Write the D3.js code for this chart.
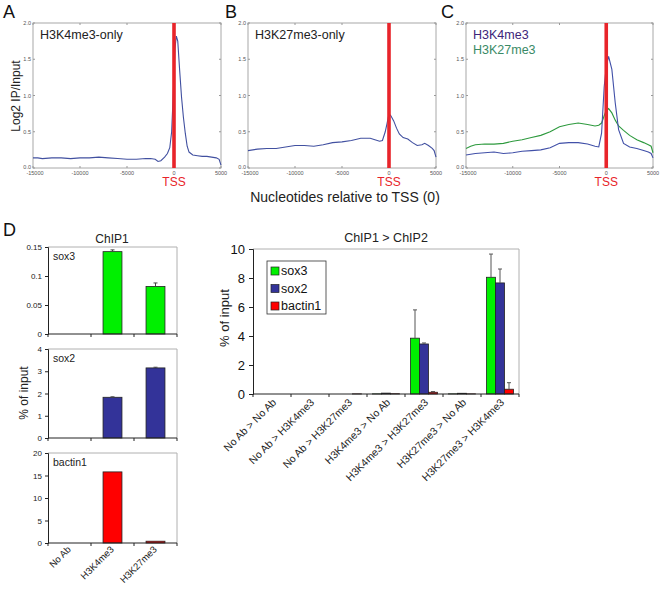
<!DOCTYPE html>
<html><head><meta charset="utf-8">
<script src="https://cdn.jsdelivr.net/npm/d3@7"></script>
<style>body{margin:0;background:#fff}svg{display:block}text{font-family:Arial,'Liberation Sans',sans-serif}</style>
</head><body><svg id="c" width="662" height="589"></svg>
<script>
// ---------- Data: profiles (A, B, C) ----------
const profileTicksX = [-15000, -10000, -5000, 0, 5000];
const profileTicksY = [0, 0.5, 1.0, 1.5, 2.0];
const ntA = [-15000,-14500,-14000,-13000,-12000,-11000,-10000,-9000,-8000,-7000,-6000,-5000,-4000,-3000,-2500,-2000,-1700,-1400,-1000,-700,-450,-250,-100,0,100,250,400,600,800,1000,1200,1400,1600,2000,2500,3000,3500,4000,4500,4800,5000];
const h3k4Only = [0.14,0.14,0.13,0.14,0.14,0.13,0.14,0.14,0.15,0.14,0.13,0.12,0.12,0.13,0.13,0.12,0.09,0.10,0.15,0.20,0.28,0.50,0.95,1.30,1.65,1.82,1.75,1.35,0.98,0.70,0.48,0.30,0.22,0.18,0.17,0.16,0.16,0.15,0.14,0.12,0.04];
const ntB = [-15000,-14000,-13000,-12000,-11000,-10000,-9000,-8000,-7000,-6000,-5000,-4000,-3000,-2000,-1500,-1000,-700,-400,-200,0,200,500,800,1100,1500,2000,2500,3000,3500,3800,4200,4600,4800,5000];
const h3k27Only = [0.24,0.26,0.27,0.27,0.29,0.31,0.31,0.30,0.32,0.35,0.36,0.38,0.41,0.41,0.39,0.37,0.38,0.50,0.62,0.75,0.72,0.65,0.55,0.47,0.42,0.40,0.35,0.31,0.32,0.34,0.31,0.27,0.24,0.15];
const ntC = [-15000,-14500,-14000,-13000,-12000,-11000,-10000,-9000,-8000,-7000,-6000,-5000,-4000,-3000,-2000,-1200,-800,-500,-220,0,250,600,960,1320,1850,2500,3270,4000,4500,4800,5000];
const bivK4 = [0.18,0.19,0.20,0.21,0.22,0.20,0.21,0.23,0.24,0.25,0.28,0.34,0.35,0.35,0.33,0.30,0.29,0.48,1.12,1.40,1.54,1.36,0.90,0.53,0.34,0.29,0.27,0.24,0.22,0.20,0.14];
const bivK27 = [0.27,0.30,0.32,0.33,0.33,0.34,0.37,0.39,0.42,0.45,0.50,0.57,0.60,0.62,0.60,0.58,0.59,0.62,0.72,0.80,0.82,0.76,0.66,0.58,0.52,0.45,0.39,0.35,0.32,0.30,0.21];

// ---------- Data: ChIP1 ----------
const chip1Cats = ["No Ab", "H3K4me3", "H3K27me3"];
const chip1Sox3 = [0, 0.142, 0.082];
const chip1Sox3Err = [0, 0.003, 0.006];
const chip1Sox2 = [0, 1.83, 3.15];
const chip1Sox2Err = [0, 0.02, 0.03];
const chip1Bactin = [0, 15.8, 0.4];
const chip1BactinErr = [0, 0, 0];
const sox3Ticks = [0, 0.05, 0.1, 0.15];
const sox2Ticks = [0, 1, 2, 3, 4];
const bactinTicks = [0, 5, 10, 15, 20];

// ---------- Data: ChIP1 > ChIP2 ----------
const reChipCats = ["No Ab > No Ab","No Ab > H3K4me3","No Ab > H3K27me3","H3K4me3 > No Ab","H3K4me3 > H3K27me3","H3K27me3 > No Ab","H3K27me3 > H3K4me3"];
const reChipSeries = ["sox3", "sox2", "bactin1"];
const reSox3 = [0, 0, 0, 0.01, 3.85, 0.01, 8.05];
const reSox3Err = [0, 0, 0, 0, 1.95, 0, 1.6];
const reSox2 = [0, 0, 0, 0.06, 3.45, 0.05, 7.66];
const reSox2Err = [0, 0, 0, 0.01, 0.07, 0.01, 0.96];
const reBactin = [0, 0, 0.01, 0.02, 0.12, 0.01, 0.33];
const reBactinErr = [0, 0, 0, 0, 0.05, 0, 0.45];
const reTicks = [0, 2, 4, 6, 8, 10];

// ---------- Drawing ----------
const svg = d3.select("#c");
const FONT = "Arial,'Liberation Sans',sans-serif";
const GREEN = "#00f000", BLUE = "#333399", RED = "#ff0000";
const TSSRED = "#e8242a";

function panelLetter(t, x, y) {
  svg.append("text").attr("x", x).attr("y", y).attr("font-size", 18).attr("fill", "#111").text(t);
}
panelLetter("A", 3, 18); panelLetter("B", 225, 18); panelLetter("C", 441, 18); panelLetter("D", 3, 236);

function profile(left, right, series, labels) {
  const top = 23, bottom = 168;
  const x = d3.scaleLinear().domain([-15000, 5000]).range([left, right]);
  const y = d3.scaleLinear().domain([0, 2]).range([bottom, top]);
  const g = svg.append("g");
  g.append("rect").attr("x", left).attr("y", top).attr("width", right - left).attr("height", bottom - top)
    .attr("fill", "none").attr("stroke", "#a8a8a8").attr("stroke-width", 1);
  profileTicksY.forEach(v => {
    g.append("line").attr("x1", left).attr("x2", left + 2).attr("y1", y(v)).attr("y2", y(v)).attr("stroke", "#999");
    g.append("line").attr("x1", right).attr("x2", right - 2).attr("y1", y(v)).attr("y2", y(v)).attr("stroke", "#999");
    g.append("text").attr("x", left - 2).attr("y", y(v) + (v === 0 ? 0.5 : 2)).attr("text-anchor", "end").attr("font-size", 5.5).attr("fill", "#555").text(v.toFixed(1));
  });
  profileTicksX.forEach(v => {
    g.append("line").attr("x1", x(v)).attr("x2", x(v)).attr("y1", bottom).attr("y2", bottom - 2).attr("stroke", "#999");
    g.append("line").attr("x1", x(v)).attr("x2", x(v)).attr("y1", top).attr("y2", top + 2).attr("stroke", "#999");
    g.append("text").attr("x", x(v) + (v === -15000 ? 2 : 0)).attr("y", bottom + 6.5).attr("text-anchor", "middle").attr("font-size", 5.5).attr("fill", "#555").text(String(v));
  });
  const line = d3.line().x(d => x(d[0])).y(d => y(d[1]));
  series.forEach(s => {
    g.append("path").attr("d", line(s.nt.map((n, i) => [n, s.v[i]]))).attr("fill", "none").attr("stroke", s.color).attr("stroke-width", 1.1);
  });
  g.append("line").attr("x1", x(0)).attr("x2", x(0)).attr("y1", top).attr("y2", bottom).attr("stroke", TSSRED).attr("stroke-width", 3.6);
  g.append("text").attr("x", x(0)).attr("y", 186).attr("text-anchor", "middle").attr("font-size", 12).attr("fill", TSSRED).text("TSS");
  labels.forEach((l, i) => {
    g.append("text").attr("x", left + 7).attr("y", 39 + i * 15).attr("font-size", 12.5).attr("fill", l.color).text(l.text);
  });
}
profile(33, 221, [{nt: ntA, v: h3k4Only, color: "#4150a0"}], [{text: "H3K4me3-only", color: "#222"}]);
profile(248, 436, [{nt: ntB, v: h3k27Only, color: "#4150a0"}], [{text: "H3K27me3-only", color: "#222"}]);
profile(466, 653, [{nt: ntC, v: bivK27, color: "#2e9a3e"}, {nt: ntC, v: bivK4, color: "#4150a8"}],
  [{text: "H3K4me3", color: "#3d2579"}, {text: "H3K27me3", color: "#3a8a66"}]);

svg.append("text").attr("x", 16).attr("y", 96).attr("transform", "rotate(-90,16,96)").attr("text-anchor", "middle").attr("dy", "0.35em")
  .attr("font-size", 12).attr("fill", "#222").text("Log2 IP/Input");
svg.append("text").attr("x", 345).attr("y", 202).attr("text-anchor", "middle").attr("font-size", 14).attr("fill", "#222").text("Nucleotides relative to TSS (0)");

// ---------- ChIP1 small bar charts ----------
svg.append("text").attr("x", 112).attr("y", 243).attr("text-anchor", "middle").attr("font-size", 12).attr("fill", "#222").text("ChIP1");
const xL = d3.scaleBand().domain(chip1Cats).range([48, 177]);
function smallBar(top, bottom, vals, errs, ticks, color, name, showX) {
  const y = d3.scaleLinear().domain([0, ticks[ticks.length - 1]]).range([bottom, top]);
  const g = svg.append("g");
  g.append("line").attr("x1", 48).attr("x2", 177).attr("y1", top).attr("y2", top).attr("stroke", "#b0b0b0");
  g.append("line").attr("x1", 177).attr("x2", 177).attr("y1", top).attr("y2", bottom).attr("stroke", "#b0b0b0");
  const bw = xL.bandwidth() * 0.44;
  chip1Cats.forEach((c, i) => {
    if (vals[i] <= 0) return;
    const cx = xL(c) + xL.bandwidth() / 2;
    g.append("rect").attr("x", cx - bw / 2).attr("y", y(vals[i])).attr("width", bw).attr("height", y(0) - y(vals[i]))
      .attr("fill", color).attr("stroke", "#222").attr("stroke-width", 0.8);
    if (errs[i] > 0) {
      g.append("line").attr("x1", cx).attr("x2", cx).attr("y1", y(vals[i])).attr("y2", y(vals[i] + errs[i])).attr("stroke", "#444");
      g.append("line").attr("x1", cx - 2).attr("x2", cx + 2).attr("y1", y(vals[i] + errs[i])).attr("y2", y(vals[i] + errs[i])).attr("stroke", "#444");
    }
  });
  const ya = d3.axisLeft(y).tickValues(ticks).tickSize(3).tickFormat(d3.format("~g"));
  const ag = g.append("g").attr("transform", "translate(48,0)").call(ya);
  ag.selectAll("text").attr("font-size", 8).attr("fill", "#222").attr("font-family", FONT);
  ag.select(".domain").attr("stroke", "#222");
  ag.selectAll(".tick line").attr("stroke", "#222");
  g.append("line").attr("x1", 48).attr("x2", 177).attr("y1", bottom).attr("y2", bottom).attr("stroke", "#222");
  [0, 1, 2, 3].forEach(i => {
    const xx = 48 + i * xL.step();
    g.append("line").attr("x1", xx).attr("x2", xx).attr("y1", bottom).attr("y2", bottom + 3).attr("stroke", "#222");
  });
  g.append("text").attr("x", 53).attr("y", top + 13).attr("font-size", 10.5).attr("fill", "#222").text(name);
  if (showX) {
    chip1Cats.forEach(c => {
      const cx = xL(c) + xL.bandwidth() / 2;
      g.append("text").attr("transform", `translate(${cx + 2},${bottom + 7}) rotate(-45)`).attr("text-anchor", "end")
        .attr("font-size", 9.5).attr("fill", "#222").text(c);
    });
  }
}
smallBar(247, 334, chip1Sox3, chip1Sox3Err, sox3Ticks, GREEN, "sox3", false);
smallBar(349, 438, chip1Sox2, chip1Sox2Err, sox2Ticks, BLUE, "sox2", false);
smallBar(453, 543, chip1Bactin, chip1BactinErr, bactinTicks, RED, "bactin1", true);
svg.append("text").attr("transform", "translate(24,393) rotate(-90)").attr("text-anchor", "middle").attr("dy", "0.35em")
  .attr("font-size", 12).attr("fill", "#222").text("% of input");

// ---------- ChIP1 > ChIP2 ----------
const R = {left: 253, right: 519, top: 249, bottom: 394};
const xR = d3.scaleBand().domain(reChipCats).range([R.left, R.right]);
const xS = d3.scaleBand().domain(reChipSeries).range([0, 27]);
const yR = d3.scaleLinear().domain([0, 10]).range([R.bottom, R.top]);
const colorR = d3.scaleOrdinal().domain(reChipSeries).range([GREEN, BLUE, RED]);
const rVals = {sox3: reSox3, sox2: reSox2, bactin1: reBactin};
const rErrs = {sox3: reSox3Err, sox2: reSox2Err, bactin1: reBactinErr};
const gR = svg.append("g");
gR.append("line").attr("x1", R.left).attr("x2", R.right).attr("y1", R.top).attr("y2", R.top).attr("stroke", "#b0b0b0");
gR.append("line").attr("x1", R.right).attr("x2", R.right).attr("y1", R.top).attr("y2", R.bottom).attr("stroke", "#b0b0b0");
reChipCats.forEach((c, i) => {
  const gx = xR(c) + (xR.bandwidth() - 27) / 2;
  reChipSeries.forEach(s => {
    const v = rVals[s][i], e = rErrs[s][i];
    if (v <= 0) return;
    const bx = gx + xS(s);
    gR.append("rect").attr("x", bx).attr("y", yR(v)).attr("width", xS.bandwidth()).attr("height", yR(0) - yR(v))
      .attr("fill", colorR(s)).attr("stroke", "#222").attr("stroke-width", 0.8);
    if (e > 0.03) {
      const cx = bx + xS.bandwidth() / 2;
      gR.append("line").attr("x1", cx).attr("x2", cx).attr("y1", yR(v)).attr("y2", yR(v + e)).attr("stroke", "#555");
      gR.append("line").attr("x1", cx - 2).attr("x2", cx + 2).attr("y1", yR(v + e)).attr("y2", yR(v + e)).attr("stroke", "#555");
    }
  });
});
const ayR = gR.append("g").attr("transform", `translate(${R.left},0)`).call(d3.axisLeft(yR).tickValues(reTicks).tickSize(4));
ayR.selectAll("text").attr("font-size", 13).attr("fill", "#111").attr("font-family", FONT).attr("x", -8);
ayR.select(".domain").attr("stroke", "#222");
ayR.selectAll(".tick line").attr("stroke", "#222");
gR.append("line").attr("x1", R.left).attr("x2", R.right).attr("y1", R.bottom).attr("y2", R.bottom).attr("stroke", "#222");
d3.range(reChipCats.length + 1).forEach(i => {
  const xx = R.left + i * xR.step();
  gR.append("line").attr("x1", xx).attr("x2", xx).attr("y1", R.bottom).attr("y2", R.bottom + 3).attr("stroke", "#222");
});
reChipCats.forEach(c => {
  const cx = xR(c) + xR.bandwidth() / 2;
  gR.append("text").attr("transform", `translate(${cx + 5},${R.bottom + 9}) rotate(-45)`).attr("text-anchor", "end")
    .attr("font-size", 10.5).attr("fill", "#222").text(c);
});
svg.append("text").attr("x", 386).attr("y", 242).attr("text-anchor", "middle").attr("font-size", 12.5).attr("fill", "#222").text("ChIP1 > ChIP2");
svg.append("text").attr("transform", "translate(224,318) rotate(-90)").attr("text-anchor", "middle").attr("dy", "0.35em")
  .attr("font-size", 13).attr("fill", "#222").text("% of input");
const lg = svg.append("g");
lg.append("rect").attr("x", 267).attr("y", 261).attr("width", 59).attr("height", 53).attr("fill", "#fff").attr("stroke", "#333").attr("stroke-width", 0.8);
reChipSeries.forEach((s, i) => {
  const yy = 267 + i * 17.5;
  lg.append("rect").attr("x", 271).attr("y", yy).attr("width", 8).attr("height", 8).attr("fill", colorR(s)).attr("stroke", "#222").attr("stroke-width", 0.7);
  lg.append("text").attr("x", 281).attr("y", yy + 8).attr("font-size", 12.5).attr("fill", "#111").text(s);
});
</script></body></html>
